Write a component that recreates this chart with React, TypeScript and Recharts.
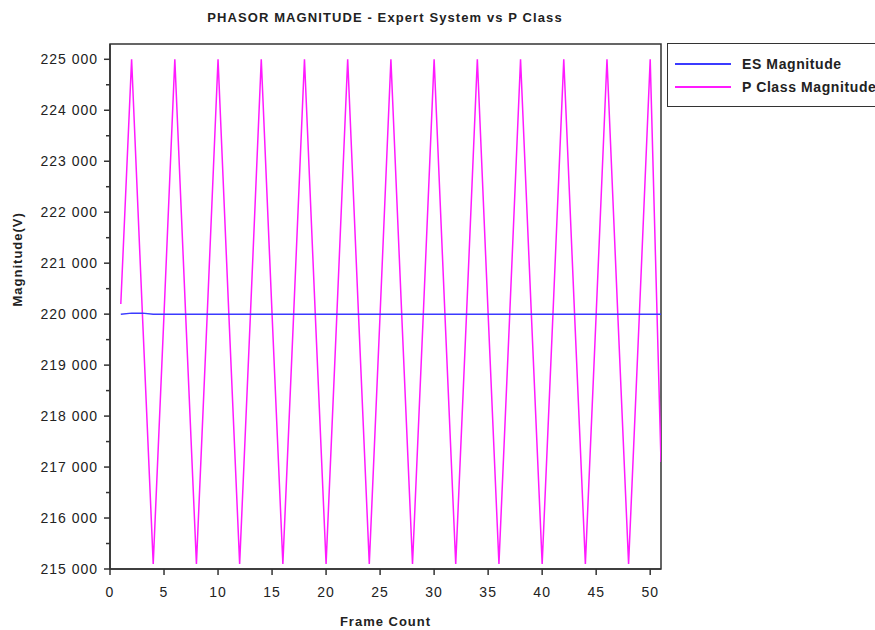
import { Line, LineChart, XAxis, YAxis, ReferenceArea } from 'recharts';

// Frame index (x) and the two magnitude series
const frames = [
  1, 2, 3, 4, 5, 6, 7, 8, 9, 10, 11, 12, 13, 14, 15, 16, 17, 18, 19, 20, 21, 22, 23, 24, 25, 26,
  27, 28, 29, 30, 31, 32, 33, 34, 35, 36, 37, 38, 39, 40, 41, 42, 43, 44, 45, 46, 47, 48, 49, 50, 51,
];

const esMagnitude = [
  220000, 220020, 220020, 220000, 220000, 220000, 220000, 220000, 220000, 220000, 220000, 220000,
  220000, 220000, 220000, 220000, 220000, 220000, 220000, 220000, 220000, 220000, 220000, 220000,
  220000, 220000, 220000, 220000, 220000, 220000, 220000, 220000, 220000, 220000, 220000, 220000,
  220000, 220000, 220000, 220000, 220000, 220000, 220000, 220000, 220000, 220000, 220000, 220000,
  220000, 220000, 220000,
];

const pClassMagnitude = [
  220200, 225000, 220000, 215100, 220000, 225000, 220000, 215100, 220000, 225000, 220000, 215100,
  220000, 225000, 220000, 215100, 220000, 225000, 220000, 215100, 220000, 225000, 220000, 215100,
  220000, 225000, 220000, 215100, 220000, 225000, 220000, 215100, 220000, 225000, 220000, 215100,
  220000, 225000, 220000, 215100, 220000, 225000, 220000, 215100, 220000, 225000, 220000, 215100,
  220000, 225000, 217100,
];

const xTicks = [0, 5, 10, 15, 20, 25, 30, 35, 40, 45, 50];
const yTicks = [
  215000, 215500, 216000, 216500, 217000, 217500, 218000, 218500, 219000, 219500, 220000, 220500,
  221000, 221500, 222000, 222500, 223000, 223500, 224000, 224500, 225000,
];

const ES_COLOR = '#3b3bff';
const P_COLOR = '#ff1aff';
const AXIS_COLOR = '#333333';
const FONT = '"Liberation Sans", Arial, sans-serif';

const data = frames.map((frame, i) => ({
  frame,
  es: esMagnitude[i],
  pClass: pClassMagnitude[i],
}));

const fmt = (v: number) => String(v).replace(/\B(?=(\d{3})+(?!\d))/g, ' ');

function YTick(props: any) {
  const { x, y, payload } = props;
  const major = payload.value % 1000 === 0;
  return (
    <g>
      <line x1={x - (major ? 6 : 4)} y1={y} x2={x} y2={y} stroke={AXIS_COLOR} strokeWidth={1.5} />
      {major && (
        <text
          x={x - 12}
          y={y}
          dy={5}
          textAnchor="end"
          fill="#222"
          fontSize={14}
          letterSpacing={1}
          fontFamily={FONT}
        >
          {fmt(payload.value)}
        </text>
      )}
    </g>
  );
}

function XTick(props: any) {
  const { x, y, payload } = props;
  return (
    <g>
      <line x1={x} y1={y} x2={x} y2={y + 6} stroke={AXIS_COLOR} strokeWidth={1.5} />
      <text
        x={x}
        y={y + 28}
        textAnchor="middle"
        fill="#222"
        fontSize={14}
        letterSpacing={1}
        fontFamily={FONT}
      >
        {payload.value}
      </text>
    </g>
  );
}

function LegendBox() {
  const row = (color: string, label: string) => (
    <div style={{ display: 'flex', alignItems: 'center', height: 23 }}>
      <div style={{ width: 56, height: 2, background: color, marginLeft: 7 }} />
      <span
        style={{
          marginLeft: 11,
          fontSize: 14,
          fontWeight: 'bold',
          color: '#222',
          whiteSpace: 'nowrap',
          letterSpacing: 0.6,
        }}
      >
        {label}
      </span>
    </div>
  );
  return (
    <div
      style={{
        position: 'absolute',
        left: 667,
        top: 43,
        border: `1.5px solid ${AXIS_COLOR}`,
        width: 230,
        height: 64,
        paddingTop: 8,
        boxSizing: 'border-box',
        fontFamily: FONT,
        background: '#fff',
      }}
    >
      {row(ES_COLOR, 'ES Magnitude')}
      {row(P_COLOR, 'P Class Magnitude')}
    </div>
  );
}

export default function App() {
  return (
    <div style={{ position: 'absolute', left: 0, top: 0, width: 875, height: 630, background: '#fff', overflow: 'hidden' }}>
      <div
        style={{
          position: 'absolute',
          top: 10,
          left: 0,
          width: 770,
          textAlign: 'center',
          fontFamily: FONT,
          fontSize: 13,
          fontWeight: 'bold',
          color: '#222',
          letterSpacing: 1.1,
        }}
      >
        PHASOR MAGNITUDE - Expert System vs P Class
      </div>
      <LineChart width={875} height={630} data={data} margin={{ top: 44, right: 214, left: 0, bottom: 0 }}>
        <XAxis
          dataKey="frame"
          type="number"
          domain={[0, 51]}
          ticks={xTicks}
          allowDataOverflow
          interval={0}
          height={61}
          tickSize={0}
          tickMargin={0}
          tickLine={false}
          axisLine={{ stroke: AXIS_COLOR, strokeWidth: 1.5 }}
          tick={<XTick />}
          label={{
            value: 'Frame Count',
            position: 'insideBottom',
            offset: 4,
            fill: '#222',
            fontSize: 13,
            fontWeight: 'bold',
            fontFamily: FONT,
            letterSpacing: 1,
          }}
        />
        <YAxis
          type="number"
          domain={[215000, 225300]}
          ticks={yTicks}
          allowDataOverflow
          interval={0}
          width={110}
          tickSize={0}
          tickMargin={0}
          tickLine={false}
          axisLine={{ stroke: AXIS_COLOR, strokeWidth: 1.5 }}
          tick={<YTick />}
          label={{
            value: 'Magnitude(V)',
            angle: -90,
            position: 'insideLeft',
            offset: 17,
            fill: '#222',
            fontSize: 13,
            fontWeight: 'bold',
            fontFamily: FONT,
            letterSpacing: 1,
          }}
        />
        <ReferenceArea
          x1={0}
          x2={51}
          y1={215000}
          y2={225300}
          fill="none"
          stroke={AXIS_COLOR}
          strokeWidth={1.5}
          ifOverflow="visible"
        />
        <Line
          dataKey="pClass"
          type="linear"
          stroke={P_COLOR}
          strokeWidth={1.5}
          dot={false}
          isAnimationActive={false}
        />
        <Line
          dataKey="es"
          type="linear"
          stroke={ES_COLOR}
          strokeWidth={1.5}
          dot={false}
          isAnimationActive={false}
        />
      </LineChart>
      <LegendBox />
    </div>
  );
}
